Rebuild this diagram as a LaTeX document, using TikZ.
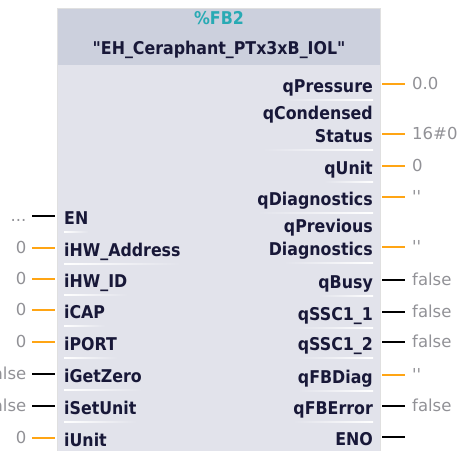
\documentclass[tikz,border=0pt]{standalone}
\usepackage{fontspec}
\setmainfont{DejaVu Sans}
\newfontfamily\pinfont{DejaVu Sans Condensed}
\newfontfamily\valfont{DejaVu Sans}

\definecolor{fbbody}{RGB}{226,227,235}
\definecolor{fbhead}{RGB}{204,208,221}
\definecolor{fbtext}{RGB}{24,24,56}
\definecolor{fbteal}{RGB}{40,170,180}
\definecolor{fbval}{RGB}{145,145,150}
\definecolor{fborange}{RGB}{255,165,20}

\tikzset{
  pintext/.style={font=\pinfont\bfseries\fontsize{17.6}{20}\selectfont, text=fbtext, inner sep=0pt},
  pinL/.style={pintext, anchor=base west, xshift=7pt, yshift=-8.5pt},
  pinR/.style={pintext, anchor=base east, xshift=-7pt, yshift=-8.5pt},
  valtext/.style={font=\valfont\fontsize{16.5}{18}\selectfont, text=fbval, inner sep=0pt},
  valL/.style={valtext, anchor=base east, xshift=-30.5pt, yshift=-5pt},
  valR/.style={valtext, anchor=base west, xshift=32pt, yshift=-5pt},
  owire/.style={draw=fborange, line width=2.6pt},
  bwire/.style={draw=black, line width=2.6pt},
  wireL/.style={shorten <=5.5pt, shorten >=2pt},
  wireR/.style={shorten <=2pt, shorten >=7pt}
}

\begin{document}
\begin{tikzpicture}[x=1pt, y=-1pt]
  \useasboundingbox (0,0) rectangle (460,450);
  \clip (0,0) rectangle (460,450);

  % block body and header
  \fill[fbbody] (57,8) rectangle (380,470);
  \fill[fbhead] (57,8) rectangle (380,65);
  \draw[black!12, line width=0.8pt] (57,470) -- (57,8) -- (380,8) -- (380,470);
  \node[pintext, text=fbteal, anchor=base] (fbnum) at (219,24) {\%FB2};
  \node[pintext, anchor=base] (fbname) at (219,54)
    {\textquotedbl EH\_Ceraphant\_PTx3xB\_IOL\textquotedbl};

  % input pins
  \coordinate (EN) at (57,216);
  \node[pinL] (lEN) at (EN) {EN};
  \node[valL] (vEN) at (EN) {...};
  \draw[bwire, wireL] (vEN.east |- EN) -- (EN);

  \coordinate (iHWA) at (57,248);
  \node[pinL] (liHWA) at (iHWA) {iHW\_Address};
  \node[valL] (viHWA) at (iHWA) {0};
  \draw[owire, wireL] (viHWA.east |- iHWA) -- (iHWA);

  \coordinate (iHWID) at (57,279);
  \node[pinL] (liHWID) at (iHWID) {iHW\_ID};
  \node[valL] (viHWID) at (iHWID) {0};
  \draw[owire, wireL] (viHWID.east |- iHWID) -- (iHWID);

  \coordinate (iCAP) at (57,310);
  \node[pinL] (liCAP) at (iCAP) {iCAP};
  \node[valL] (viCAP) at (iCAP) {0};
  \draw[owire, wireL] (viCAP.east |- iCAP) -- (iCAP);

  \coordinate (iPORT) at (57,342);
  \node[pinL] (liPORT) at (iPORT) {iPORT};
  \node[valL] (viPORT) at (iPORT) {0};
  \draw[owire, wireL] (viPORT.east |- iPORT) -- (iPORT);

  \coordinate (iGetZero) at (57,374);
  \node[pinL] (liGetZero) at (iGetZero) {iGetZero};
  \node[valL] (viGetZero) at (iGetZero) {false};
  \draw[bwire, wireL] (viGetZero.east |- iGetZero) -- (iGetZero);

  \coordinate (iSetUnit) at (57,406);
  \node[pinL] (liSetUnit) at (iSetUnit) {iSetUnit};
  \node[valL] (viSetUnit) at (iSetUnit) {false};
  \draw[bwire, wireL] (viSetUnit.east |- iSetUnit) -- (iSetUnit);

  \coordinate (iUnit) at (57,438);
  \node[pinL] (liUnit) at (iUnit) {iUnit};
  \node[valL] (viUnit) at (iUnit) {0};
  \draw[owire, wireL] (viUnit.east |- iUnit) -- (iUnit);

  % output pins
  \coordinate (qPressure) at (380,84);
  \node[pinR] (lqPressure) at (qPressure) {qPressure};
  \node[valR] (vqPressure) at (qPressure) {0.0};
  \draw[owire, wireR] (qPressure) -- (vqPressure.west |- qPressure);

  \coordinate (qStatus) at (380,134);
  \node[pinR] (lqStatus) at (qStatus) {Status};
  \node[pintext, anchor=base east] (lqCond) at ([yshift=23.5pt]lqStatus.base east) {qCondensed};
  \node[valR] (vqStatus) at (qStatus) {16\#0};
  \draw[owire, wireR] (qStatus) -- (vqStatus.west |- qStatus);

  \coordinate (qUnit) at (380,166);
  \node[pinR] (lqUnit) at (qUnit) {qUnit};
  \node[valR] (vqUnit) at (qUnit) {0};
  \draw[owire, wireR] (qUnit) -- (vqUnit.west |- qUnit);

  \coordinate (qDiag) at (380,197);
  \node[pinR] (lqDiag) at (qDiag) {qDiagnostics};
  \node[valR] (vqDiag) at (qDiag) {\textquotesingle\textquotesingle};
  \draw[owire, wireR] (qDiag) -- (vqDiag.west |- qDiag);

  \coordinate (qPrev) at (380,247);
  \node[pinR] (lqPrev) at (qPrev) {Diagnostics};
  \node[pintext, anchor=base east] (lqPrevTop) at ([yshift=23.5pt]lqPrev.base east) {qPrevious};
  \node[valR] (vqPrev) at (qPrev) {\textquotesingle\textquotesingle};
  \draw[owire, wireR] (qPrev) -- (vqPrev.west |- qPrev);

  \coordinate (qBusy) at (380,280);
  \node[pinR] (lqBusy) at (qBusy) {qBusy};
  \node[valR] (vqBusy) at (qBusy) {false};
  \draw[bwire, wireR] (qBusy) -- (vqBusy.west |- qBusy);

  \coordinate (qSSCa) at (380,312);
  \node[pinR] (lqSSCa) at (qSSCa) {qSSC1\_1};
  \node[valR] (vqSSCa) at (qSSCa) {false};
  \draw[bwire, wireR] (qSSCa) -- (vqSSCa.west |- qSSCa);

  \coordinate (qSSCb) at (380,342);
  \node[pinR] (lqSSCb) at (qSSCb) {qSSC1\_2};
  \node[valR] (vqSSCb) at (qSSCb) {false};
  \draw[bwire, wireR] (qSSCb) -- (vqSSCb.west |- qSSCb);

  \coordinate (qFBDiag) at (380,375);
  \node[pinR] (lqFBDiag) at (qFBDiag) {qFBDiag};
  \node[valR] (vqFBDiag) at (qFBDiag) {\textquotesingle\textquotesingle};
  \draw[owire, wireR] (qFBDiag) -- (vqFBDiag.west |- qFBDiag);

  \coordinate (qFBError) at (380,406);
  \node[pinR] (lqFBError) at (qFBError) {qFBError};
  \node[valR] (vqFBError) at (qFBError) {false};
  \draw[bwire, wireR] (qFBError) -- (vqFBError.west |- qFBError);

  \coordinate (ENO) at (380,437);
  \coordinate (ENOend) at (405,437);
  \node[pinR] (lENO) at (ENO) {ENO};
  \draw[bwire, shorten <=2pt] (ENO) -- (ENOend);

  % faint separators under the pin names
  \foreach \a/\b in {lEN/lEN, liHWA/liHWA, liHWID/liHWID, liCAP/liCAP, liPORT/liPORT,
                     liGetZero/liGetZero, liSetUnit/liSetUnit}
    \shade[left color=white, right color=fbbody]
      ([yshift=-6.5pt]\a.base west) rectangle ([yshift=-8pt]\b.base east);
  \foreach \a/\b in {lqPressure/lqPressure, lqCond/lqStatus, lqUnit/lqUnit, lqDiag/lqDiag,
                     lqPrevTop/lqPrev, lqBusy/lqBusy, lqSSCa/lqSSCa, lqSSCb/lqSSCb,
                     lqFBDiag/lqFBDiag, lqFBError/lqFBError}
    \shade[left color=fbbody, right color=white]
      ([yshift=-6.5pt]\a.west |- \b.base) rectangle ([yshift=-8pt]\b.base east);
\end{tikzpicture}
\end{document}
